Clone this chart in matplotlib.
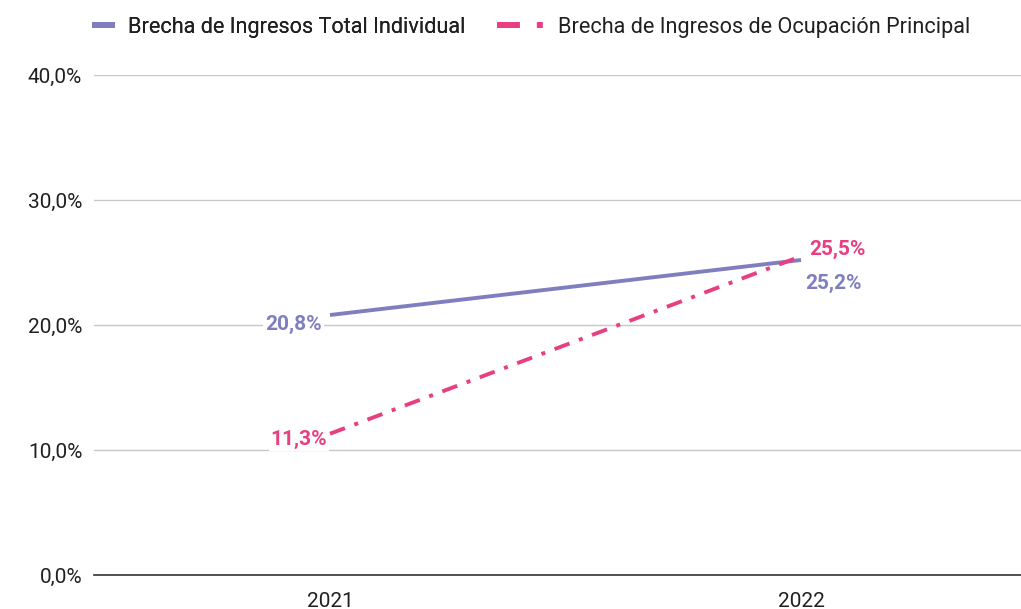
import matplotlib
import matplotlib.pyplot as plt
from matplotlib.lines import Line2D

matplotlib.use("Agg")

years = ["2021", "2022"]
total_individual = [20.8, 25.2]
ocupacion_principal = [11.3, 25.5]
y_ticks = [0, 10, 20, 30, 40]

PURPLE = "#7f7fc0"
PINK = "#e83e82"
GRID = "#c8c8c8"
TEXT = "#202020"
FS = 15
LEG_FS = 15.6

plt.rcParams["font.family"] = ["Roboto", "DejaVu Sans"]
plt.rcParams["lines.scale_dashes"] = False

fig = plt.figure(figsize=(10.21, 6.09), dpi=100)
ax = fig.add_axes([94 / 1021, (609 - 575) / 609, (1021 - 94) / 1021, 500 / 609])

x = list(range(len(years)))
ax.plot(x, total_individual, color=PURPLE, lw=2.8, solid_capstyle="butt", zorder=3)
ax.plot(x, ocupacion_principal, color=PINK, lw=2.8, dashes=(11.5, 7.2, 2.9, 7.2),
        dash_capstyle="butt", zorder=3)

ax.set_xlim(-0.501, 1.467)
ax.set_ylim(0, 40)
ax.set_yticks(y_ticks)
ax.set_yticklabels([f"{v:.1f}%".replace(".", ",") for v in y_ticks])
ax.set_xticks(x)
ax.set_xticklabels(years)
ax.tick_params(axis="both", length=0, labelsize=FS, colors=TEXT)
ax.tick_params(axis="y", pad=8.5)
ax.tick_params(axis="x", pad=12)

ax.grid(axis="y", color=GRID, lw=1)
ax.set_axisbelow(True)
for side in ("top", "right", "left"):
    ax.spines[side].set_visible(False)
ax.spines["bottom"].set_color("#333333")
ax.spines["bottom"].set_linewidth(1.2)


def fmt(v):
    return f"{v:.1f}%".replace(".", ",")


bbox = dict(boxstyle="square,pad=0.1", fc="white", ec="none")
ax.annotate(fmt(total_individual[0]), (x[0], total_individual[0]), xytext=(-6, -7),
            textcoords="offset points", ha="right", va="center", color=PURPLE,
            fontsize=FS, fontweight="bold", bbox=bbox, zorder=4)
ax.annotate(fmt(ocupacion_principal[0]), (x[0], ocupacion_principal[0]), xytext=(-2, -4),
            textcoords="offset points", ha="right", va="center", color=PINK,
            fontsize=FS, fontweight="bold", bbox=bbox, zorder=4)
ax.annotate(fmt(ocupacion_principal[1]), (x[1], ocupacion_principal[1]), xytext=(6, 5),
            textcoords="offset points", ha="left", va="center", color=PINK,
            fontsize=FS, fontweight="bold", zorder=4)
ax.annotate(fmt(total_individual[1]), (x[1], total_individual[1]), xytext=(3, -17),
            textcoords="offset points", ha="left", va="center", color=PURPLE,
            fontsize=FS, fontweight="bold", zorder=4)

# two legends so each swatch can have its own length
em = LEG_FS * 100 / 72
leg_y = 1 - 17 / 609
leg1 = fig.legend([Line2D([], [], color=PURPLE, lw=4.3, solid_capstyle="butt")],
                  ["Brecha de Ingresos Total Individual"],
                  loc="upper left", bbox_to_anchor=(92 / 1021, leg_y), frameon=False,
                  fontsize=LEG_FS, handlelength=23 / em, handletextpad=13 / em,
                  borderaxespad=0, borderpad=0, labelcolor=TEXT)
fig.legend([Line2D([], [], color=PINK, lw=4.3, dashes=(16.5, 12.2, 4.3, 12.2),
                   dash_capstyle="butt")],
           ["Brecha de Ingresos de Ocupación Principal"],
           loc="upper left", bbox_to_anchor=(497 / 1021, leg_y), frameon=False,
           fontsize=LEG_FS, handlelength=46 / em, handletextpad=15 / em,
           borderaxespad=0, borderpad=0, labelcolor=TEXT)
fig.add_artist(leg1)

fig.savefig("out.png", dpi=100, facecolor="white")
